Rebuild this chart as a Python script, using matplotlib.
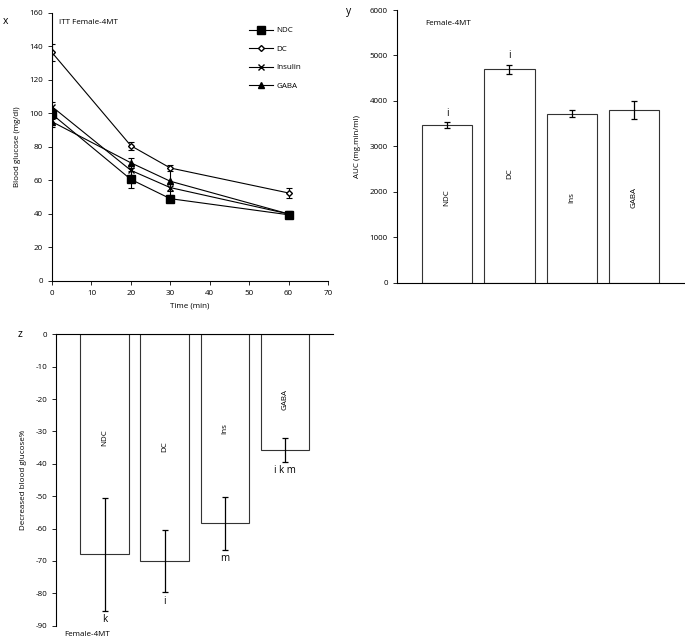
import matplotlib
matplotlib.use("Agg")
import matplotlib.pyplot as plt
from matplotlib.lines import Line2D
import numpy as np

plt.rcParams['font.family'] = ['Open Sans', 'DejaVu Sans']
plt.rcParams['font.size'] = 5.8
plt.rcParams['axes.unicode_minus'] = False

# ---- panel x: insulin tolerance test ----
time_min = [0, 20, 30, 60]
ndc_bg = [99.5, 60.6, 49.1, 39.5]
ndc_err = [3, 5, 1.5, 1.5]
dc_bg = [136.3, 80.7, 67.4, 52.5]
dc_err = [5, 2.5, 2, 3]
ins_bg = [104, 66, 55.7, 40]
ins_err = [3, 3, 2, 1.5]
gaba_bg = [95, 70.5, 59.5, 40]
gaba_err = [3, 3, 8, 1.5]

# ---- panel y: AUC ----
groups = ['NDC', 'DC', 'Ins', 'GABA']
auc = [3470, 4700, 3720, 3800]
auc_err = [60, 100, 70, 190]
auc_sig = ['i', 'i', '', '']

# ---- panel z: decrease in blood glucose ----
dec = [-68, -70.1, -58.3, -35.7]
dec_err = [17.4, 9.6, 8.2, 3.8]
dec_sig = ['k', 'i', 'm', 'i k m']

fs = 5.8
fig = plt.figure(figsize=(6.85, 6.38), dpi=100)

# panel x
ax1 = fig.add_axes([0.0759, 0.5596, 0.4029, 0.4204])
series = [(ndc_bg, ndc_err, 'NDC', dict(marker='s', markersize=6, mfc='black')),
          (dc_bg, dc_err, 'DC', dict(marker='D', markersize=3, mfc='white')),
          (ins_bg, ins_err, 'Insulin', dict(marker='x', markersize=5, mfc='black')),
          (gaba_bg, gaba_err, 'GABA', dict(marker='^', markersize=5, mfc='black'))]
handles = []
for vals, err, name, st in series:
    ax1.errorbar(time_min, vals, yerr=err, color='black', lw=0.8, elinewidth=0.8,
                 capsize=2.5, capthick=0.8, mec='black', **st)
    handles.append(Line2D([], [], color='black', lw=0.8, mec='black', label=name, **st))
ax1.set_xlim(0, 70)
ax1.set_ylim(0, 160)
ax1.set_xticks(np.arange(0, 71, 10))
ax1.set_yticks(np.arange(0, 161, 20))
ax1.spines['top'].set_visible(False)
ax1.spines['right'].set_visible(False)
ax1.tick_params(direction='out', length=3, width=0.6, labelsize=fs)
ax1.set_xlabel('Time (min)', fontsize=fs, labelpad=4)
ax1.set_ylabel('Blood glucose (mg/dl)', fontsize=fs, labelpad=6)
ax1.text(1.7, 156, 'ITT Female-4MT', fontsize=fs, va='top')
ax1.legend(handles=handles, loc='upper right', bbox_to_anchor=(0.93, 0.975), frameon=False,
           fontsize=fs, handlelength=3, labelspacing=1.35, handletextpad=0.4)
fig.text(0.004, 0.975, 'x', fontsize=7.5, va='top')

# panel y
ax2 = fig.add_axes([0.5791, 0.5569, 0.4194, 0.4274])
xpos = np.arange(len(groups))
ax2.bar(xpos, auc, width=0.81, color='white', edgecolor='#333333', linewidth=0.8,
        yerr=auc_err, capsize=2.5, error_kw=dict(elinewidth=0.9, capthick=0.9))
for i, g in enumerate(groups):
    ax2.text(xpos[i], 1880 if g != 'DC' else 2410, g, rotation=90,
             ha='center', va='center', fontsize=fs)
    if auc_sig[i]:
        ax2.text(xpos[i], auc[i] + auc_err[i] + 80, auc_sig[i], ha='center',
                 va='bottom', fontsize=7)
ax2.set_xlim(-0.81, 3.8)
ax2.set_ylim(0, 6000)
ax2.set_yticks(np.arange(0, 6001, 1000))
ax2.set_xticks([])
ax2.spines['top'].set_visible(False)
ax2.spines['right'].set_visible(False)
ax2.tick_params(direction='out', length=3, width=0.6, labelsize=fs)
ax2.set_ylabel('AUC (mg.min/ml)', fontsize=fs, labelpad=6)
ax2.text(0.1, 0.965, 'Female-4MT', transform=ax2.transAxes, fontsize=fs, va='top')
fig.text(0.505, 0.99, 'y', fontsize=7.5, va='top')

# panel z
ax3 = fig.add_axes([0.0818, 0.0193, 0.4044, 0.4567])
ax3.bar(xpos, dec, width=0.81, color='white', edgecolor='#333333', linewidth=0.8,
        yerr=dec_err, capsize=2.5, error_kw=dict(elinewidth=0.9, capthick=0.9))
label_y = [-32, -34.7, -29, -20]
for i, g in enumerate(groups):
    ax3.text(xpos[i], label_y[i], g, rotation=90, ha='center', va='center', fontsize=fs)
    ax3.text(xpos[i], dec[i] - dec_err[i] - 1, dec_sig[i], ha='center', va='top',
             fontsize=7)
ax3.set_xlim(-0.81, 3.8)
ax3.set_ylim(-90, 0)
ax3.set_yticks(np.arange(-90, 1, 10))
ax3.set_xticks([])
ax3.spines['bottom'].set_visible(False)
ax3.spines['right'].set_visible(False)
ax3.tick_params(direction='out', length=3, width=0.6, labelsize=fs)
ax3.set_ylabel('Decreased blood glucose%', fontsize=fs, labelpad=6)
fig.text(0.094, 0.006, 'Female-4MT', fontsize=fs, va='center')
fig.text(0.026, 0.476, 'z', fontsize=7.5, va='center')

fig.savefig('out.png', dpi=100)
